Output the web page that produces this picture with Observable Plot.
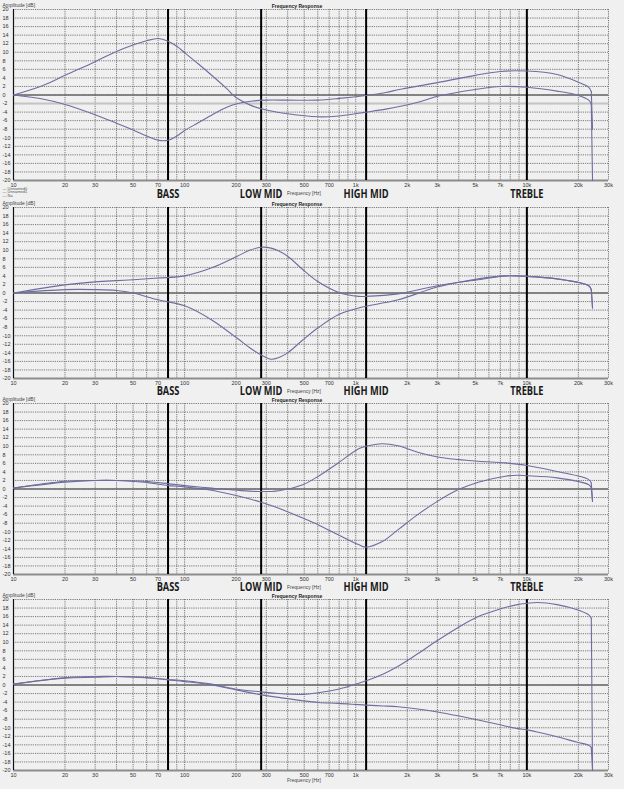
<!DOCTYPE html>
<html><head><meta charset="utf-8">
<script src="https://cdn.jsdelivr.net/npm/d3@7"></script>
<script src="https://cdn.jsdelivr.net/npm/@observablehq/plot@0.6"></script>
<style>
html,body{margin:0;padding:0;background:#f0f0f0;}
#charts svg{display:block;overflow:visible;}
</style></head><body><div id="charts"></div>
<script>
// ---- shared labels / ticks ----
const bandNames = ["BASS", "LOW MID", "HIGH MID", "TREBLE"];
const bandFreqs = [80, 280, 1150, 10000];
const xTickValues = [10, 20, 30, 50, 70, 100, 200, 300, 500, 700, 1000, 2000, 3000, 5000, 7000, 10000, 20000, 30000];
const xTickLabels = ["10", "20", "30", "50", "70", "100", "200", "300", "500", "700", "1k", "2k", "3k", "5k", "7k", "10k", "20k", "30k"];
const xGridValues = [10, 20, 30, 40, 50, 60, 70, 80, 90, 100, 200, 300, 400, 500, 600, 700, 800, 900,
  1000, 2000, 3000, 4000, 5000, 6000, 7000, 8000, 9000, 10000, 20000, 30000];
const yTickValues = [20, 18, 16, 14, 12, 10, 8, 6, 4, 2, 0, -2, -4, -6, -8, -10, -12, -14, -16, -18, -20];
const legendNames = ["Unnamed0", "Unnamed1", "Na"];
const titleText = "Frequency Response";
const yAxisLabel = "Amplitude [dB]";
const xAxisLabel = "Frequency [Hz]";

// ---- panel 1: BASS ----
const freq1 = [10, 15, 20, 30, 40, 50, 60, 70, 80, 90, 100, 120, 145, 175, 200, 250, 300, 400, 600, 800, 1150, 1500, 1800, 2400, 3000, 5000, 7000, 10000, 15000, 20000, 23000, 23800, 24200];
const bassBoost = [0, 2.3, 4.6, 7.8, 10.2, 11.7, 12.7, 13.2, 12.6, 11.4, 9.9, 7.3, 4.5, 1.6, -0.6, -2.6, -3.5, -4.4, -5.1, -4.9, -4.0, -3.3, -2.7, -1.5, -0.3, 1.3, 2.0, 1.8, 0.9, -0.1, -1.2, -2.2, -20];
const bassCut = [0, -1.0, -2.2, -4.6, -6.6, -8.2, -9.6, -10.6, -10.6, -9.6, -8.3, -6.5, -4.6, -2.9, -2.1, -1.4, -1.2, -1.2, -1.2, -0.8, -0.1, 0.6, 1.3, 2.2, 2.9, 4.6, 5.5, 5.6, 4.8, 3.0, 1.8, 0.8, -8];

// ---- panel 2: LOW MID ----
const freq2 = [10, 20, 30, 40, 50, 70, 100, 144, 203, 240, 280, 320, 355, 400, 490, 600, 790, 1040, 1150, 1770, 3000, 5200, 7500, 10000, 15000, 23000, 23800, 24200];
const lowMidBoost = [0, 1.9, 2.6, 2.9, 3.1, 3.5, 4.0, 5.9, 8.6, 10.0, 10.7, 10.5, 9.8, 8.6, 5.5, 2.7, 0.2, -0.8, -0.8, -0.2, 1.7, 3.1, 4.0, 3.9, 3.3, 1.7, 0.8, -3.5];
const lowMidCut = [0, 0.8, 0.8, 0.6, 0, -1.6, -3.0, -6.3, -10.6, -12.8, -14.5, -15.5, -15.1, -14.0, -11.0, -8.2, -5.1, -3.5, -3.1, -1.6, 1.4, 3.3, 4.0, 3.9, 3.3, 1.7, 0.8, -3.5];

// ---- panel 3: HIGH MID ----
const freq3 = [10, 20, 30, 40, 58, 80, 100, 144, 203, 280, 355, 490, 605, 790, 1040, 1150, 1430, 1770, 2300, 3000, 3950, 5200, 7500, 8800, 10000, 15000, 23000, 23800, 24200];
const highMidBoost = [0.2, 1.8, 2.0, 2.0, 1.8, 1.25, 0.8, 0.2, -0.3, -0.6, -0.4, 1.0, 3.0, 6.1, 9.4, 10.0, 10.6, 10.1, 8.6, 7.5, 6.9, 6.5, 6.1, 5.8, 5.5, 4.1, 2.2, 1.4, -2.9];
const highMidCut = [0.2, 1.6, 2.0, 2.0, 1.6, 0.8, 0.5, -0.3, -1.6, -3.1, -4.5, -6.8, -8.4, -10.7, -13.0, -13.6, -12.3, -9.5, -6.0, -2.9, -0.2, 1.6, 3.0, 3.2, 3.1, 2.6, 1.0, 0.3, -2.9];

// ---- panel 4: TREBLE ----
const freq4 = [10, 20, 30, 40, 58, 80, 100, 144, 203, 280, 355, 490, 605, 790, 1040, 1150, 1450, 1770, 2300, 3000, 3950, 5200, 6750, 8800, 10000, 11500, 15000, 19700, 23000, 23800, 24200];
const trebleBoost = [0.2, 1.7, 2.0, 2.0, 1.7, 1.3, 1.0, 0.2, -1.0, -1.6, -2.0, -2.2, -1.8, -1.0, 0.4, 1.0, 2.6, 4.4, 7.3, 10.4, 13.4, 16.0, 17.6, 18.8, 19.1, 19.3, 18.8, 17.6, 16.4, 15.6, -20];
const trebleCut = [0.2, 1.6, 1.8, 2.0, 1.8, 1.2, 0.8, 0, -1.2, -2.3, -2.9, -3.7, -4.1, -4.3, -4.6, -4.7, -4.9, -5.1, -5.6, -6.3, -7.2, -8.2, -9.2, -10.2, -10.5, -11.0, -12.1, -13.4, -14.1, -14.6, -20];

const panels = [
  {freqs: freq1, a: bassBoost, b: bassCut, height: 198, legend: true, bands: true, faint: [-2], bandDy: 17},
  {freqs: freq2, a: lowMidBoost, b: lowMidCut, height: 196, legend: false, bands: true, faint: [], bandDy: 16},
  {freqs: freq3, a: highMidBoost, b: highMidCut, height: 196, legend: false, bands: true, faint: [], bandDy: 16},
  {freqs: freq4, a: trebleBoost, b: trebleCut, height: 199, legend: false, bands: false, faint: [], bandDy: 0}
];

const small = "Liberation Sans, DejaVu Sans, sans-serif";
const container = document.getElementById("charts");
const curveColor = "#6f6d9f";

panels.forEach((p) => {
  const n = p.freqs.length;
  const rows = [
    ...p.freqs.map((f, i) => ({f, v: p.a[i], s: legendNames[0], i})),
    ...p.freqs.map((f, i) => ({f, v: p.b[i], s: legendNames[1], i}))
  ];
  const body = rows.filter(d => d.i < n - 1);
  const drop = rows.filter(d => d.i >= n - 2);
  const marks = [
    Plot.ruleY(yTickValues, {stroke: "#5c5c5c", strokeWidth: 0.8, strokeDasharray: "1.2,1"}),
    Plot.ruleX(xGridValues, {stroke: "#5c5c5c", strokeWidth: 0.8, strokeDasharray: "1.2,1"}),
    Plot.ruleY(p.faint, {stroke: "#c4c4c4", strokeWidth: 2}),
    Plot.ruleY([0], {stroke: "#6a6a6a", strokeWidth: 1.6}),
    Plot.ruleY([-20], {stroke: "#8c8c8c", strokeWidth: 2}),
    Plot.ruleX([10], {stroke: "#111", strokeWidth: 1.2}),
    Plot.ruleX(bandFreqs, {stroke: "#000", strokeWidth: 2}),
    Plot.line(body, {x: "f", y: "v", z: "s", stroke: curveColor, strokeWidth: 1.1, curve: "catmull-rom"}),
    Plot.line(drop, {x: "f", y: "v", z: "s", stroke: curveColor, strokeWidth: 1.1, curve: "linear"}),
    Plot.text(yTickValues, {y: d => d, text: d => String(d), frameAnchor: "left", textAnchor: "start", dx: -11, fontSize: 5.5, fill: "#333", fontFamily: small}),
    Plot.text(xTickValues, {x: d => d, text: (d, i) => xTickLabels[i], frameAnchor: "bottom", dy: 6, fontSize: 5.5, fill: "#333", fontFamily: small}),
    Plot.text([yAxisLabel], {frameAnchor: "top-left", textAnchor: "start", dx: -11, dy: -6, fontSize: 5, fill: "#444", fontFamily: small}),
    Plot.text([titleText], {frameAnchor: "top", dx: -14, dy: -5, fontSize: 5, fontWeight: "bold", fill: "#222", fontFamily: small}),
    Plot.text([xAxisLabel], {frameAnchor: "bottom", dx: -7, dy: p.bands ? 14 : 11, fontSize: 5, fill: "#444", fontFamily: small})
  ];
  if (p.legend) {
    marks.push(Plot.text([legendNames.map(nm => "\u2014 " + nm).join("\n")], {
      frameAnchor: "bottom-left", textAnchor: "start", lineAnchor: "top", dx: -11, dy: 7,
      fontSize: 4, lineHeight: 0.85, fill: "#555", fontFamily: small
    }));
  }
  if (p.bands) {
    marks.push(Plot.text(bandNames, {
      x: (d, i) => bandFreqs[i], text: d => d, frameAnchor: "bottom", dy: p.bandDy,
      fontSize: 12.5, fontWeight: "bold", fill: "#1a1a1a", fontFamily: "Open Sans, Noto Sans, sans-serif"
    }));
  }
  const svg = Plot.plot({
    width: 624,
    height: p.height,
    marginLeft: 13,
    marginRight: 16,
    marginTop: 9,
    marginBottom: p.height - 180,
    x: {type: "log", domain: [10, 30000], axis: null},
    y: {domain: [-20, 20], axis: null},
    style: {background: "transparent", overflow: "visible"},
    marks
  });
  container.appendChild(svg);
  d3.select(svg).selectAll("text").filter(function () { return bandNames.includes(this.textContent); })
    .each(function () {
      const w = this.getComputedTextLength();
      this.setAttribute("textLength", (w * 0.74).toFixed(1));
      this.setAttribute("lengthAdjust", "spacingAndGlyphs");
    });
});
</script></body></html>
